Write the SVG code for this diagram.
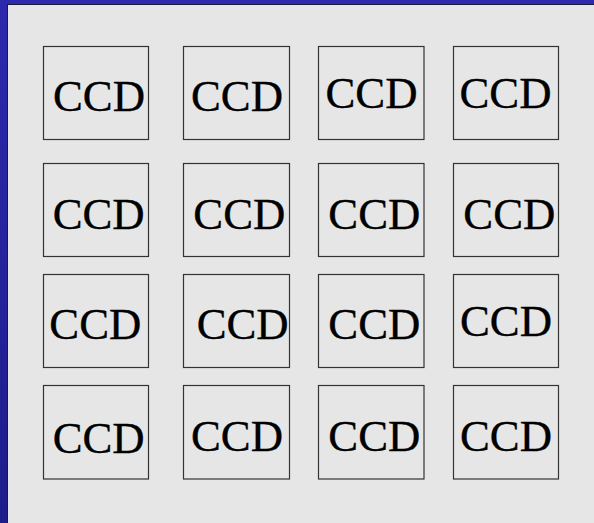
<svg xmlns="http://www.w3.org/2000/svg" width="594" height="523" viewBox="0 0 594 523">
  <defs>
    <linearGradient id="blue" x1="0" y1="0" x2="0" y2="1">
      <stop offset="0" stop-color="#2c29ad"/>
      <stop offset="1" stop-color="#1f1c8c"/>
    </linearGradient>
    <style>
      .box { fill: #e6e6e6; stroke: #333333; stroke-width: 1.2; }
      .lbl { font-family: "Liberation Serif", "Times New Roman", serif; font-size: 44px; fill: #000; stroke: #000; stroke-width: 0.35; }
    </style>
  </defs>
  <rect x="0" y="0" width="594" height="523" fill="url(#blue)"/>
  <rect x="7.5" y="4.5" width="600" height="530" fill="#e6e6e6" stroke="#1a1a40" stroke-width="1"/>

  <g id="ccd-r1c1"><rect class="box" x="43.5" y="46.5" width="105" height="93"/><text class="lbl" x="53" y="111" textLength="92" lengthAdjust="spacingAndGlyphs">CCD</text></g>
  <g id="ccd-r1c2"><rect class="box" x="183.5" y="46.5" width="106" height="93"/><text class="lbl" x="191" y="111" textLength="92" lengthAdjust="spacingAndGlyphs">CCD</text></g>
  <g id="ccd-r1c3"><rect class="box" x="318.5" y="46.5" width="105.5" height="93"/><text class="lbl" x="325.5" y="108" textLength="92" lengthAdjust="spacingAndGlyphs">CCD</text></g>
  <g id="ccd-r1c4"><rect class="box" x="453.5" y="46.5" width="105" height="93"/><text class="lbl" x="459.5" y="108" textLength="92" lengthAdjust="spacingAndGlyphs">CCD</text></g>

  <g id="ccd-r2c1"><rect class="box" x="43.5" y="163.5" width="105" height="93"/><text class="lbl" x="52.7" y="229" textLength="92" lengthAdjust="spacingAndGlyphs">CCD</text></g>
  <g id="ccd-r2c2"><rect class="box" x="183.5" y="163.5" width="106" height="93"/><text class="lbl" x="193.3" y="229" textLength="92" lengthAdjust="spacingAndGlyphs">CCD</text></g>
  <g id="ccd-r2c3"><rect class="box" x="318.5" y="163.5" width="105.5" height="93"/><text class="lbl" x="328.3" y="229" textLength="92" lengthAdjust="spacingAndGlyphs">CCD</text></g>
  <g id="ccd-r2c4"><rect class="box" x="453.5" y="163.5" width="105" height="93"/><text class="lbl" x="463.3" y="229" textLength="92" lengthAdjust="spacingAndGlyphs">CCD</text></g>

  <g id="ccd-r3c1"><rect class="box" x="43.5" y="274.5" width="105" height="93"/><text class="lbl" x="49.3" y="339" textLength="92" lengthAdjust="spacingAndGlyphs">CCD</text></g>
  <g id="ccd-r3c2"><rect class="box" x="183.5" y="274.5" width="106" height="93"/><text class="lbl" x="196.7" y="339" textLength="92" lengthAdjust="spacingAndGlyphs">CCD</text></g>
  <g id="ccd-r3c3"><rect class="box" x="318.5" y="274.5" width="105.5" height="93"/><text class="lbl" x="328.3" y="339" textLength="92" lengthAdjust="spacingAndGlyphs">CCD</text></g>
  <g id="ccd-r3c4"><rect class="box" x="453.5" y="274.5" width="105" height="93"/><text class="lbl" x="460" y="335.7" textLength="92" lengthAdjust="spacingAndGlyphs">CCD</text></g>

  <g id="ccd-r4c1"><rect class="box" x="43.5" y="385.5" width="105" height="93.5"/><text class="lbl" x="52.7" y="453.3" textLength="92" lengthAdjust="spacingAndGlyphs">CCD</text></g>
  <g id="ccd-r4c2"><rect class="box" x="183.5" y="385.5" width="106" height="93.5"/><text class="lbl" x="191" y="450.7" textLength="92" lengthAdjust="spacingAndGlyphs">CCD</text></g>
  <g id="ccd-r4c3"><rect class="box" x="318.5" y="385.5" width="105.5" height="93.5"/><text class="lbl" x="328.3" y="450.7" textLength="92" lengthAdjust="spacingAndGlyphs">CCD</text></g>
  <g id="ccd-r4c4"><rect class="box" x="453.5" y="385.5" width="105" height="93.5"/><text class="lbl" x="460" y="450.7" textLength="92" lengthAdjust="spacingAndGlyphs">CCD</text></g>

  <g id="connectors"/>
</svg>
